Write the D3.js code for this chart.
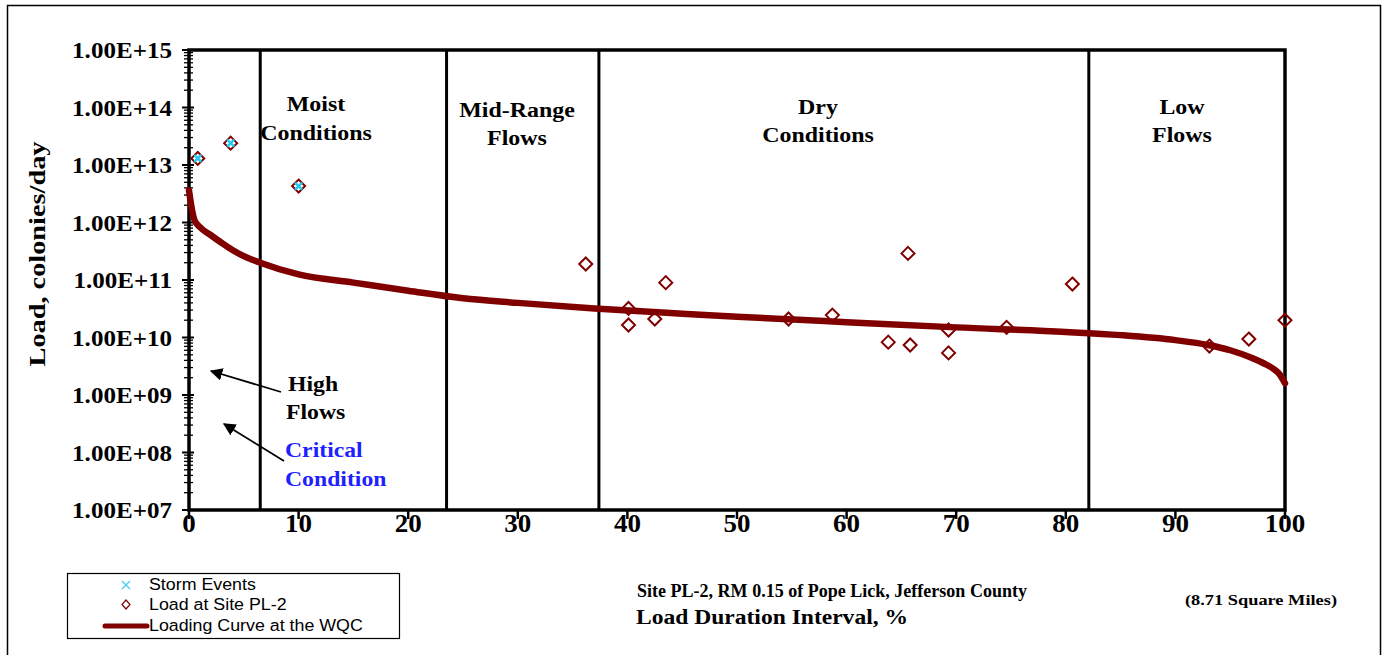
<!DOCTYPE html>
<html><head><meta charset="utf-8">
<script src="https://cdn.jsdelivr.net/npm/d3@7"></script>
<style>body{margin:0;background:#fff;} svg{display:block;}</style>
</head><body>
<svg id="c" width="1384" height="655"></svg>
<script>
// Loading curve (duration %, load)
const curvePct = [0, 0.2, 0.5, 1, 2, 3, 4, 5, 6.5, 10, 15, 20, 25, 30, 37, 45, 50, 60, 70, 80, 85, 90, 93, 95, 97, 98, 99, 99.5, 100];
const curveLoad = [3.6e12, 2e12, 1.1e12, 8.3e11, 6e11, 4.4e11, 3.3e11, 2.6e11, 2e11, 1.25e11, 9e10, 6.5e10, 4.8e10, 4e10, 3.2e10, 2.6e10, 2.3e10, 1.85e10, 1.5e10, 1.25e10, 1.1e10, 9e9, 7.4e9, 6e9, 4.4e9, 3.6e9, 2.8e9, 2.3e9, 1.6e9];
// Site PL-2 samples
const samplePct = [0.8, 3.8, 10.0, 36.2, 40.1, 40.1, 42.5, 43.5, 54.7, 58.7, 63.8, 65.6, 65.8, 69.3, 69.3, 74.6, 80.6, 93.1, 96.7, 100];
const sampleLoad = [1.3e13, 2.4e13, 4.3e12, 1.9e11, 3.2e10, 1.65e10, 2.1e10, 9e10, 2.1e10, 2.45e10, 8.3e9, 2.9e11, 7.4e9, 1.35e10, 5.4e9, 1.5e10, 8.5e10, 7.1e9, 9.4e9, 2e10];
// Storm events
const stormPct = [0.8, 3.8, 10.0];
const stormLoad = [1.3e13, 2.4e13, 4.3e12];
// Flow zone boundaries and labels
const zoneBounds = [6.5, 23.5, 37.4, 82.1];
const zoneLabels = [["Moist","Conditions"],["Mid-Range","Flows"],["Dry","Conditions"],["Low","Flows"]];
const xTicks = [0,10,20,30,40,50,60,70,80,90,100];
const yTicks = [1e7,1e8,1e9,1e10,1e11,1e12,1e13,1e14,1e15];
const yTickLabels = ["1.00E+07","1.00E+08","1.00E+09","1.00E+10","1.00E+11","1.00E+12","1.00E+13","1.00E+14","1.00E+15"];

const svg = d3.select("#c");
const L = 189, R = 1285, T = 50, B = 510;
const x = d3.scaleLinear().domain([0,100]).range([L,R]);
const y = d3.scaleLog().domain([1e7,1e15]).range([B,T]);
const serif = "'Liberation Serif','Times New Roman',serif";
const sans = "'Liberation Sans',Arial,sans-serif";
const red = "#800000";

function txt(g, px, py, s, size, anchor, sx, opts) {
  opts = opts || {};
  const t = g.append("text")
    .attr("transform", `translate(${px},${py})${opts.rot?` rotate(${opts.rot})`:""} scale(${sx},1)`)
    .attr("text-anchor", anchor).attr("font-family", opts.family || serif)
    .attr("font-size", size).attr("fill", opts.fill || "#000").text(s);
  if (!opts.normal) t.attr("font-weight","bold");
  if (opts.dy) t.attr("dy", opts.dy);
  return t;
}

// outer border
svg.append("rect").attr("x",7.5).attr("y",5.5).attr("width",1373).attr("height",660)
  .attr("fill","none").attr("stroke","#000").attr("stroke-width",1.5);

// plot frame
svg.append("rect").attr("x",L).attr("y",T).attr("width",R-L).attr("height",B-T)
  .attr("fill","none").attr("stroke","#000").attr("stroke-width",3.5);

// zone lines
svg.selectAll(".zl").data(zoneBounds).enter().append("line")
  .attr("x1",d=>x(d)).attr("x2",d=>x(d)).attr("y1",T).attr("y2",B)
  .attr("stroke","#000").attr("stroke-width",3);

// y minor / major ticks
const minor = [];
for (let e=7;e<15;e++) for (let m=2;m<=9;m++) minor.push(m*Math.pow(10,e));
svg.selectAll(".ymin").data(minor).enter().append("line")
  .attr("x1",L-5).attr("x2",L+4).attr("y1",d=>y(d)).attr("y2",d=>y(d))
  .attr("stroke","#000").attr("stroke-width",1.3);
svg.selectAll(".ymaj").data(yTicks).enter().append("line")
  .attr("x1",L-7).attr("x2",L+5).attr("y1",d=>y(d)).attr("y2",d=>y(d))
  .attr("stroke","#000").attr("stroke-width",2);
yTicks.forEach((d,i)=> txt(svg, 172, y(d), yTickLabels[i], 23, "end", 1.09, {dy:"0.35em"}));

// x ticks
svg.selectAll(".xt").data(xTicks).enter().append("line")
  .attr("x1",d=>x(d)).attr("x2",d=>x(d)).attr("y1",B).attr("y2",B+9)
  .attr("stroke","#000").attr("stroke-width",2.5);
xTicks.forEach(d=> txt(svg, x(d), 532, String(d), 25, "middle", 1.08));

// axis titles
txt(svg, 45, 254, "Load, colonies/day", 24, "middle", 1.18, {rot:-90});
svg.append("text").attr("x",832).attr("y",597).attr("text-anchor","middle")
  .attr("font-family",serif).attr("font-weight","bold").attr("font-size",19)
  .attr("textLength",390).attr("lengthAdjust","spacingAndGlyphs")
  .text("Site PL-2, RM 0.15 of Pope Lick, Jefferson County");
svg.append("text").attr("x",772).attr("y",624).attr("text-anchor","middle")
  .attr("font-family",serif).attr("font-weight","bold").attr("font-size",20)
  .attr("textLength",272).attr("lengthAdjust","spacingAndGlyphs")
  .text("Load Duration Interval, %");
svg.append("text").attr("x",1261).attr("y",605).attr("text-anchor","middle")
  .attr("font-family",serif).attr("font-weight","bold").attr("font-size",15)
  .attr("textLength",152).attr("lengthAdjust","spacingAndGlyphs")
  .text("(8.71 Square Miles)");

// zone labels
const zoneCenters = [316, 517, 818, 1182];
const zoneY = [[111,140],[117,145],[114,142],[114,142]];
zoneLabels.forEach((lab,i)=>{
  lab.forEach((t,j)=> txt(svg, zoneCenters[i], zoneY[i][j], t, 21, "middle", 1.14));
});

// High flows / critical labels
txt(svg, 288, 391, "High", 21, "start", 1.13);
txt(svg, 286, 419, "Flows", 21, "start", 1.13);
txt(svg, 285, 457, "Critical", 21, "start", 1.13, {fill:"#1f1fff"});
txt(svg, 285, 486, "Condition", 21, "start", 1.13, {fill:"#1f1fff"});

// arrows
const defs = svg.append("defs");
defs.append("marker").attr("id","ah").attr("viewBox","0 0 10 10").attr("refX",9).attr("refY",5)
  .attr("markerWidth",7).attr("markerHeight",7).attr("orient","auto")
  .append("path").attr("d","M0,0 L10,5 L0,10 z").attr("fill","#000");
[[281,392,211,371],[284,461,224,424]].forEach(a=>{
  svg.append("line").attr("x1",a[0]).attr("y1",a[1]).attr("x2",a[2]).attr("y2",a[3])
    .attr("stroke","#000").attr("stroke-width",1.8).attr("marker-end","url(#ah)");
});

// loading curve
const curve = curvePct.map((p,i)=>[p,curveLoad[i]]);
svg.append("path").datum(curve)
  .attr("d",d3.line().x(d=>x(d[0])).y(d=>y(d[1])).curve(d3.curveMonotoneX))
  .attr("fill","none").attr("stroke",red).attr("stroke-width",6.5).attr("stroke-linecap","round");

// samples (diamonds)
const ds = 6.5;
const samples = samplePct.map((p,i)=>[p,sampleLoad[i]]);
svg.selectAll(".dm").data(samples).enter().append("path")
  .attr("d",d=>{const cx=x(d[0]),cy=y(d[1]);return `M${cx},${cy-ds}L${cx+ds},${cy}L${cx},${cy+ds}L${cx-ds},${cy}Z`;})
  .attr("fill","none").attr("stroke",red).attr("stroke-width",2);

// storm markers (x)
const storms = stormPct.map((p,i)=>[p,stormLoad[i]]);
const xs = 3.5;
svg.selectAll(".st").data(storms).enter().append("path")
  .attr("d",d=>{const cx=x(d[0]),cy=y(d[1]);return `M${cx-xs},${cy-xs}L${cx+xs},${cy+xs}M${cx-xs},${cy+xs}L${cx+xs},${cy-xs}`;})
  .attr("stroke","#22ccf0").attr("stroke-width",2.5);

// legend
const lg = svg.append("g");
lg.append("rect").attr("x",67.5).attr("y",573.5).attr("width",332).attr("height",65)
  .attr("fill","#fff").attr("stroke","#000").attr("stroke-width",1.2);
lg.append("path").attr("d","M122,581L130,589M122,589L130,581").attr("stroke","#44ccee").attr("stroke-width",1.2);
lg.append("path").attr("d","M126,600L130,604.5L126,609L122,604.5Z").attr("fill","none").attr("stroke",red).attr("stroke-width",1.2);
lg.append("line").attr("x1",105).attr("x2",147).attr("y1",626).attr("y2",626).attr("stroke",red).attr("stroke-width",5).attr("stroke-linecap","round");
[["Storm Events",590],["Load at Site PL-2",610],["Loading Curve at the WQC",631]].forEach(t=>{
  txt(lg, 149, t[1], t[0], 16.5, "start", 1.08, {family:sans, normal:true});
});
</script>
</body></html>
